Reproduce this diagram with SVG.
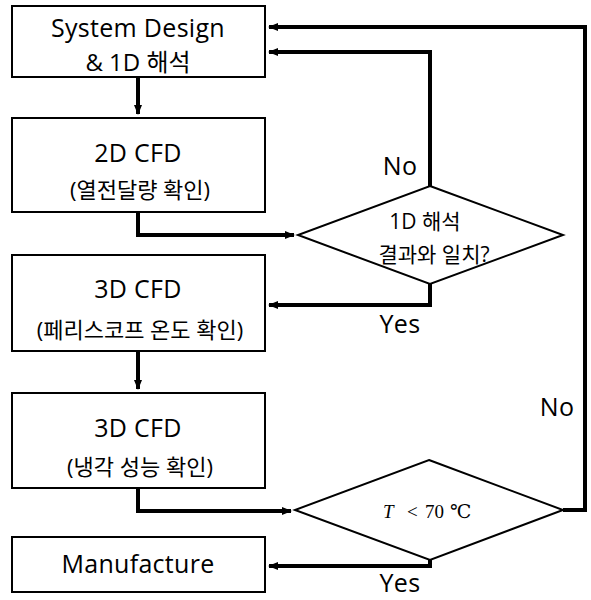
<svg xmlns="http://www.w3.org/2000/svg" width="591" height="600" viewBox="0 0 591 600">
<defs>
<marker id="ah" markerWidth="10" markerHeight="8" refX="9" refY="4" orient="auto" markerUnits="userSpaceOnUse"><path d="M0,0 L10,4 L0,8 z" fill="#000"/></marker>
</defs>
<style>
.box{fill:#fff;stroke:#000;stroke-width:2}
.dia{fill:#fff;stroke:#000;stroke-width:2}
.t{font-family:"Open Sans","Noto Sans CJK KR",sans-serif;fill:#000;text-anchor:middle}
.big{font-size:25px;letter-spacing:0.3px}
.mix{font-size:24px}
.sm{font-size:22px}
.dt{font-size:21px}
.c{fill:none;stroke:#000;stroke-width:4}
.m{font-family:"Liberation Serif","DejaVu Serif",serif;font-size:19px;fill:#000}
</style>
<rect width="591" height="600" fill="#fff"/>
<g id="connectors">
<path class="c" d="M138,77 V114" marker-end="url(#ah)"/>
<path class="c" d="M138,212 V235 H294" marker-end="url(#ah)"/>
<path class="c" d="M430,186 V52 H269" marker-end="url(#ah)"/>
<path class="c" d="M430,284 V305 H269" marker-end="url(#ah)"/>
<path class="c" d="M138,351 V389" marker-end="url(#ah)"/>
<path class="c" d="M138,488 V511 H291" marker-end="url(#ah)"/>
<path class="c" d="M563,510 H585 V27 H269" marker-end="url(#ah)"/>
<path class="c" d="M430,560 V566 H269" marker-end="url(#ah)"/>
</g>
<g id="n1"><rect class="box" x="12" y="6" width="253" height="71"/>
<text class="t big" x="138" y="37">System Design</text><text class="t mix" x="138" y="71">&amp; 1D 해석</text></g>
<g id="n2"><rect class="box" x="12" y="118" width="253" height="94"/>
<text class="t big" x="138" y="162">2D CFD</text><text class="t sm" x="140" y="198">(열전달량 확인)</text></g>
<g id="d1"><polygon class="dia" points="430,186 563,235 430,284 298,235"/>
<text class="t dt" x="425" y="229">1D 해석</text><text class="t dt" x="434" y="262">결과와 일치?</text></g>
<g id="n3"><rect class="box" x="12" y="255" width="253" height="96"/>
<text class="t big" x="138" y="298">3D CFD</text><text class="t sm" x="140" y="338">(페리스코프 온도 확인)</text></g>
<g id="n4"><rect class="box" x="12" y="393" width="253" height="95"/>
<text class="t big" x="138" y="437">3D CFD</text><text class="t sm" x="140" y="475">(냉각 성능 확인)</text></g>
<g id="d2"><polygon class="dia" points="429,460 563,510 430,560 295,510"/>
<text class="m" y="518"><tspan x="383" font-style="italic">T</tspan><tspan x="407">&lt;</tspan><tspan x="425">70</tspan><tspan x="450">℃</tspan></text></g>
<g id="n5"><rect class="box" x="12" y="537" width="253" height="55"/>
<text class="t big" x="138" y="573">Manufacture</text></g>
<g id="labels">
<text class="t big" x="400" y="175">No</text>
<text class="t big" x="400" y="333">Yes</text>
<text class="t big" x="557" y="416">No</text>
<text class="t big" x="400" y="592">Yes</text>
</g>
</svg>
